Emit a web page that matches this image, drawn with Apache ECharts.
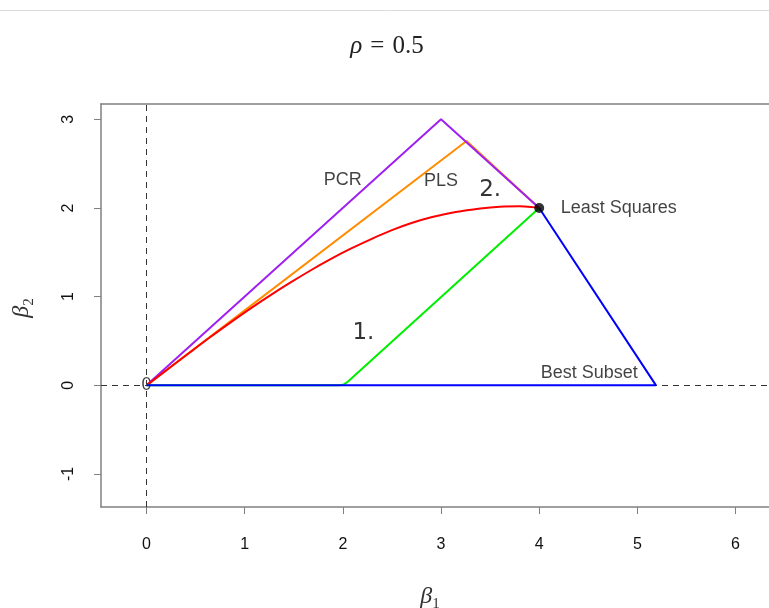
<!DOCTYPE html>
<html><head><meta charset="utf-8">
<script src="https://cdn.jsdelivr.net/npm/echarts@6/dist/echarts.min.js"></script>
<style>html,body{margin:0;padding:0;background:#fff}#c{width:769px;height:608px}</style>
</head><body><div id="c"></div>
<script>
const xTicks = [0, 1, 2, 3, 4, 5, 6];
const yTicks = [-1, 0, 1, 2, 3];
const pcrPath = [[0, 0], [3, 3], [4, 2]];
const plsPath = [[0, 0], [3.26, 2.755], [4, 2]];
const ridgePath = [[0, 0], [0.44, 0.37], [0.65, 0.545], [0.85, 0.705], [1.05, 0.86], [1.26, 1.015], [1.46, 1.155], [1.67, 1.295], [1.87, 1.42], [2.07, 1.535], [2.3, 1.655], [2.5, 1.75], [2.7, 1.83], [2.9, 1.895], [3.15, 1.955], [3.4, 1.995], [3.6, 2.015], [3.8, 2.02], [3.92, 2.012], [4, 2]];
const lassoPath = [[0, 0], [1.97, 0], [2.01, 0.01], [2.05, 0.04], [4, 2]];
const subsetPath = [[0, 0], [5.19, 0], [4, 2]];
const leastSquares = [[4, 2]];
const originMark = [[0, 0]];
const labelTexts = ['PCR', 'PLS', '2.', '1.', 'Least Squares', 'Best Subset'];
const labelCoords = [[2.0, 2.31], [3.0, 2.30], [3.5, 2.2], [2.21, 0.595], [4.22, 2.0], [4.51, 0.144]];

const X_MIN = -0.4635, X_MAX = 6.341, Y_MIN = -1.372, Y_MAX = 3.1725;
const chart = echarts.init(document.getElementById('c'), null, {renderer: 'canvas'});
const bigLabel = {fontFamily: 'DejaVu Sans', fontSize: 23, color: '#000'};
const labelData = labelTexts.map((t, i) => {
  const d = {name: t, value: labelCoords[i]};
  if (t === '1.' || t === '2.') d.label = bigLabel;
  if (t === 'Least Squares') d.label = {align: 'left'};
  return d;
});
function lineSeries(name, data, color, z, smooth) {
  return {name, type: 'line', data, showSymbol: false, symbol: 'none', z, smooth: smooth || false,
    lineStyle: {color, width: 2}, itemStyle: {color}, silent: true, animation: false};
}
const frameLine = {show: true, onZero: false, lineStyle: {color: '#808080', width: 1.5}};
chart.setOption({
  animation: false,
  grid: {left: 101, top: 104, right: 0, height: 403},
  xAxis: [{type: 'value', min: X_MIN, max: X_MAX, position: 'bottom',
    axisLine: frameLine, splitLine: {show: false},
    axisTick: {show: true, length: 7, customValues: xTicks, lineStyle: {color: '#808080', width: 1}},
    axisLabel: {customValues: xTicks, margin: 30, fontFamily: 'Liberation Sans', fontSize: 16, color: '#111'}},
    {type: 'value', min: X_MIN, max: X_MAX, position: 'top',
    axisLine: frameLine, splitLine: {show: false}, axisTick: {show: false}, axisLabel: {show: false}}],
  yAxis: {type: 'value', min: Y_MIN, max: Y_MAX, position: 'left',
    axisLine: frameLine, splitLine: {show: false},
    axisTick: {show: true, length: 7, customValues: yTicks, lineStyle: {color: '#808080', width: 1}},
    axisLabel: {customValues: yTicks, margin: 24, rotate: 90, fontFamily: 'Liberation Sans', fontSize: 16, color: '#111'}},
  graphic: [
    {type: 'line', shape: {x1: 0, y1: 10.5, x2: 769, y2: 10.5}, style: {stroke: '#dcdcdc', lineWidth: 1}},
    {type: 'text', x: 387, y: 46, style: {text: '{r|ρ}{e|=}{n|0.5}', align: 'center', verticalAlign: 'middle',
      rich: {r: {fontFamily: 'Liberation Serif', fontStyle: 'italic', fontSize: 25, fill: '#222'},
             e: {fontFamily: 'Liberation Serif', fontSize: 25, padding: [0, 8, 0, 8], fill: '#222'},
             n: {fontFamily: 'Liberation Serif', fontSize: 25, fill: '#222'}}}},
    {type: 'text', x: 430, y: 597, style: {text: '{b|β}{s|1}', align: 'center', verticalAlign: 'middle',
      rich: {b: {fontFamily: 'Liberation Serif', fontStyle: 'italic', fontSize: 24, lineHeight: 30, verticalAlign: 'middle', fill: '#333'},
             s: {fontFamily: 'Liberation Serif', fontSize: 15, lineHeight: 30, verticalAlign: 'bottom', fill: '#333'}}}},
    {type: 'text', x: 22, y: 308, rotation: Math.PI / 2, style: {text: '{b|β}{s|2}', align: 'center', verticalAlign: 'middle',
      rich: {b: {fontFamily: 'Liberation Serif', fontStyle: 'italic', fontSize: 24, lineHeight: 30, verticalAlign: 'middle', fill: '#333'},
             s: {fontFamily: 'Liberation Serif', fontSize: 15, lineHeight: 30, verticalAlign: 'bottom', fill: '#333'}}}}
  ],
  series: [
    {name: 'ref', type: 'line', data: [], z: 1, silent: true,
      markLine: {silent: true, symbol: 'none', label: {show: false}, animation: false,
        lineStyle: {color: '#333', width: 1, type: [6, 5]},
        data: [{xAxis: 0}, {yAxis: 0}]}},
    {name: 'origin', type: 'scatter', data: originMark, symbolSize: 1, z: 1, silent: true,
      itemStyle: {color: 'transparent'},
      label: {show: true, position: 'inside', formatter: '0', fontFamily: 'Liberation Sans', fontSize: 18, color: '#111'}},
    lineSeries('PLS', plsPath, '#FF8C00', 3),
    lineSeries('PCR', pcrPath, '#A020F0', 4),
    lineSeries('Ridge', ridgePath, '#FF0000', 5, 0.3),
    lineSeries('Lasso', lassoPath, '#00EE00', 6),
    lineSeries('Best Subset', subsetPath, '#0000FF', 7),
    {name: 'LS', type: 'scatter', data: leastSquares, symbolSize: 10, z: 8, silent: true, itemStyle: {color: '#000'}},
    {name: 'labels', type: 'scatter', data: labelData, symbolSize: 1, z: 9, silent: true,
      itemStyle: {color: 'transparent'},
      label: {show: true, position: 'inside', formatter: p => p.name, fontFamily: 'Liberation Sans', fontSize: 18, color: '#111'}}
  ]
});
</script>
</body></html>
